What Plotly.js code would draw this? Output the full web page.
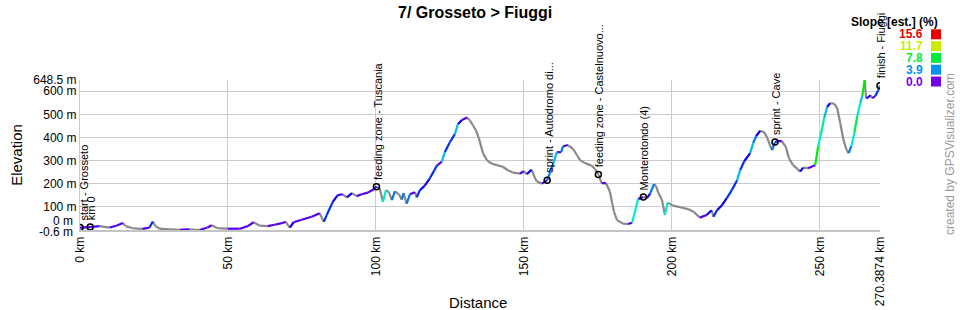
<!DOCTYPE html>
<html><head><meta charset="utf-8">
<script src="https://cdn.plot.ly/plotly-3.0.1.min.js"></script>
<style>body{margin:0;background:#fff}#chart{width:960px;height:310px}</style>
</head><body><div id="chart"></div>
<script>
const chartTitle = "7/ Grosseto > Fiuggi";
const distanceKm = [0,3.45,6.6,10,12.3,14.5,15.4,17.8,21.1,23.5,
24.6,25.5,26.9,30.3,33.7,37,40.4,43.1,44.5,46.5,
49.9,54,56.7,58.7,60.7,63.4,65.8,68.2,69.5,70.9,
72.2,74.9,78.3,81,82.4,83.4,85.4,87.1,88.8,90.2,
91.9,93.5,95.2,97.3,99.3,100.2,101.3,102.4,103.4,104.4,
105.4,106.4,107.8,108.7,109.4,110.4,111.5,113.2,113.8,114.9,
116.5,118.2,119.6,120.6,122.3,123.3,125,126.7,127.7,129.1,
130.8,131.8,132.8,133.8,134.8,136.2,137.5,139.2,140.9,142.9,
144.6,146.3,148.7,150,151,152.6,153.8,154.4,156.1,157.9,
158.8,159.9,161.1,162.6,163.3,164.9,166.6,168,169,170.7,
172.9,174.1,175.2,176.3,177.8,179.1,179.8,180.5,181.5,183.5,
185.2,186.6,187.6,188.6,190.4,191.6,192.7,194,194.7,195.5,
196.7,197.7,198.6,200.4,202.8,205.5,207.5,209.5,211.8,213.5,
214.1,215.3,217,218.6,220.3,222.1,223.1,224.5,226.5,227.5,
228.5,229.9,231.2,232.2,233.2,233.9,234.9,235.9,237.2,238.6,
239.6,241,242.4,243.4,244.4,246.1,247.8,248.5,249.5,250.5,
251.5,252.5,253.5,254.9,255.9,256.9,258,259,259.8,260.7,
261.7,262.7,263.7,264.4,265.2,265.7,266.4,267.1,267.7,268.8,
269.8,270.3874];
const elevationM = [10,12,16,10,18,30,16,7,4,10,
36,16,5,2,0,2,-0.6,10,20,7,
5,5,16,33,18,16,22,29,35,10,
33,44,57,72,35,64,120,150,154,141,
159,146,154,161,176,187,180,121,172,163,
129,167,154,131,159,113,154,163,141,172,
191,222,254,278,295,336,379,414,457,475,
486,473,453,431,397,332,302,286,280,273,
258,248,243,254,241,260,224,209,200,215,
245,284,336,336,362,367,351,323,302,289,
278,263,240,202,202,165,120,77,42,27,
25,31,81,133,142,137,157,198,189,159,
129,64,118,105,98,90,77,53,64,85,
57,85,107,137,172,215,258,297,332,375,
405,429,423,401,367,345,380,384,384,358,
310,280,265,252,269,267,276,280,362,418,
483,531,548,546,527,466,392,349,332,362,
418,492,548,579,648.5,570,572,583,570,579,
604,624];
const waypointNames = ["start - Grosseto","km 0","feeding zone - Tuscania","sprint - Autodromo di...","feeding zone - Castelnuovo...","Monterotondo (4)","sprint - Cave","finish - Fiuggi"];
const waypointKm = [0,3.45,100.2,157.9,175.2,190.4,234.9,270.3874];
const waypointElev = [10,12,187,215,240,142,380,624];
const slopeLegendValues = [15.6,11.7,7.8,3.9,0.0];
const xTickVals = [0,50,100,150,200,250,270.3874];
const xTickText = ["0 km","50 km","100 km","150 km","200 km","250 km","270.3874 km"];
const yTickVals = [100,200,300,400,500,600,648.5];
const yTickText = ["100 m","200 m","300 m","400 m","500 m","600 m","648.5 m"];

const FONT = "Liberation Sans, Arial, Helvetica, sans-serif";
const SLOPE_MAX = 15.6;
function slopeColor(s){
  if (s < 0) return "#8a8a8a";
  const t = Math.min(s, SLOPE_MAX) / SLOPE_MAX;
  const h = 270 * (1 - t);
  return "hsl(" + h.toFixed(1) + ",100%,46%)";
}
const bins = {};
for (let i = 0; i < distanceKm.length - 1; i++) {
  const dk = distanceKm[i+1] - distanceKm[i];
  const s = (elevationM[i+1] - elevationM[i]) / (dk * 10);
  const key = s < 0 ? -1 : Math.min(Math.floor(s), 16);
  if (!bins[key]) bins[key] = {x: [], y: []};
  bins[key].x.push(distanceKm[i], distanceKm[i+1], null);
  bins[key].y.push(elevationM[i], elevationM[i+1], null);
}
const traces = [];
Object.keys(bins).map(Number).sort((a,b)=>a-b).forEach(k => {
  traces.push({
    type: "scatter", mode: "lines", x: bins[k].x, y: bins[k].y,
    line: {color: k < 0 ? slopeColor(-1) : slopeColor(k + 0.5), width: 2.2},
    hoverinfo: "skip", showlegend: false
  });
});
traces.push({
  type: "scatter", mode: "markers", x: waypointKm, y: waypointElev,
  marker: {symbol: "circle-open", size: 6, color: "#000", line: {width: 1.5, color: "#000"}},
  showlegend: false, hoverinfo: "skip"
});

const annotations = [];
waypointNames.forEach((n, i) => {
  annotations.push({
    x: waypointKm[i], y: waypointElev[i], xref: "x", yref: "y",
    text: n, textangle: -90, showarrow: false,
    xanchor: "center", yanchor: "bottom", yshift: 5, xshift: i === 0 ? 4 : 1,
    font: {family: FONT, size: 11, color: "#000"}
  });
});
annotations.push({xref: "paper", yref: "y", x: 0, y: 0, text: "0 m", showarrow: false,
  xanchor: "right", yanchor: "middle", xshift: -5, yshift: 9, font: {family: FONT, size: 12, color: "#000"}});
annotations.push({xref: "paper", yref: "y", x: 0, y: -0.6, text: "-0.6 m", showarrow: false,
  xanchor: "right", yanchor: "middle", xshift: -5, yshift: -2, font: {family: FONT, size: 12, color: "#000"}});
annotations.push({xref: "paper", yref: "paper", x: 1.0175, y: (230-21.5)/150, text: "<b>Slope [est.] (%)</b>",
  showarrow: false, xanchor: "center", yanchor: "middle", font: {family: FONT, size: 12, color: "#000"}});
const shapes = [];
slopeLegendValues.forEach((v, i) => {
  const py = 34.3 + i * 11.8;
  const yc = (230 - py) / 150;
  annotations.push({xref: "paper", yref: "paper", x: (925-80)/800, y: yc, text: "<b>" + v.toFixed(1) + "</b>",
    showarrow: false, xanchor: "right", yanchor: "middle",
    font: {family: FONT, size: 12, color: slopeColor(v)}});
  shapes.push({type: "rect", xref: "paper", yref: "paper",
    x0: (931-80)/800, x1: (941-80)/800, y0: yc - 5/150, y1: yc + 5/150,
    fillcolor: slopeColor(v), line: {width: 0}});
});
annotations.push({xref: "paper", yref: "paper", x: (950-80)/800, y: (230-154)/150,
  text: "created by GPSVisualizer.com", textangle: -90, showarrow: false,
  xanchor: "center", yanchor: "middle", font: {family: FONT, size: 12, color: "#999"}});
annotations.push({xref: "paper", yref: "paper", x: (478-80)/800, y: (230-302)/150,
  text: "Distance", showarrow: false, xanchor: "center", yanchor: "middle",
  font: {family: FONT, size: 15, color: "#000"}});

const layout = {
  width: 960, height: 310,
  margin: {l: 80, r: 80, t: 80, b: 80, pad: 0},
  paper_bgcolor: "#fff", plot_bgcolor: "#fff",
  font: {family: FONT, size: 12, color: "#000"},
  title: {text: "<b>" + chartTitle + "</b>", x: 0.495, xref: "container", xanchor: "center",
    y: 0.96, yref: "container", yanchor: "middle", font: {family: FONT, size: 16, color: "#000"}},
  xaxis: {range: [0, 270.3874], tickvals: xTickVals, ticktext: xTickText, tickangle: -90,
    showgrid: true, gridcolor: "#cccccc", gridwidth: 1, zeroline: false,
    showline: true, linecolor: "#c4c4c4", linewidth: 2, ticks: "",
    tickfont: {family: FONT, size: 12, color: "#000"}, fixedrange: true},
  yaxis: {range: [-0.6, 648.5], tickvals: yTickVals, ticktext: yTickText,
    showgrid: true, gridcolor: "#cccccc", gridwidth: 1, zeroline: false,
    showline: true, linecolor: "#cccccc", linewidth: 1, ticks: "",
    tickfont: {family: FONT, size: 12, color: "#000"}, fixedrange: true,
    title: {text: "Elevation", font: {family: FONT, size: 15, color: "#000"}, standoff: 6}},
  annotations: annotations, shapes: shapes, showlegend: false
};
Plotly.newPlot("chart", traces, layout, {displayModeBar: false, staticPlot: true});
</script></body></html>
